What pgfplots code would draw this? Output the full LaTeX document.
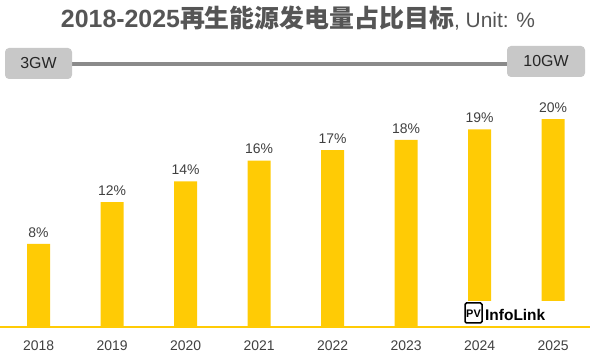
\documentclass[border=0pt]{standalone}
\usepackage{pgfplots}
\pgfplotsset{compat=1.18}
\usepackage{fontspec}
\setmainfont{Liberation Sans}
\newfontfamily\cjk{Noto Sans CJK SC}
\definecolor{barY}{HTML}{FFCB05}
\definecolor{labgray}{HTML}{404040}
\definecolor{titgray}{HTML}{555555}
\definecolor{boxgray}{HTML}{C8C8C8}
\definecolor{linegray}{HTML}{8A8A8A}
\begin{document}
\begin{tikzpicture}
\useasboundingbox (0,0) rectangle (600bp,361bp);
\begin{axis}[
  at={(0bp,34bp)}, anchor=south west, scale only axis,
  width=590bp, height=237bp,
  xmin=-0.524, xmax=7.503, ymin=0, ymax=22.79,
  axis x line*=bottom, axis y line=none,
  x axis line style={draw=barY, line width=2bp},
  ybar, bar width=23bp,
  xtick={0,1,2,3,4,5,6,7},
  xticklabels={2018,2019,2020,2021,2022,2023,2024,2025},
  major tick length=0pt,
  xticklabel style={font=\fontsize{14}{14}\selectfont, text=labgray, yshift=-10bp},
  /pgf/number format/assume math mode=true,
  nodes near coords={\pgfmathprintnumber{\pgfplotspointmeta}\%},
  every node near coord/.append style={font=\fontsize{14}{14}\selectfont, text=labgray, yshift=3bp},
  clip=false,
]
\addplot[fill=barY, draw=none] coordinates {(0,8) (1,12) (2,14) (3,16) (4,17) (5,18) (6,19) (7,20)};
\end{axis}
% title
\node[text=titgray, anchor=center] at (298bp,343bp) {{\fontsize{25}{25}\selectfont\bfseries 2018-2025{\cjk\bfseries 再生能源发电量占比目标}}{\fontsize{21}{21}\selectfont, Unit: \%}};
% capacity line
\draw[linegray, line width=4bp] (72bp,297bp) -- (507bp,297bp);
\filldraw[fill=boxgray, draw=none, rounded corners=4bp] (5bp,282bp) rectangle (72bp,313bp);
\node[font=\fontsize{16}{16}\selectfont, text=black!85] at (38.5bp,297.5bp) {3GW};
\filldraw[fill=boxgray, draw=none, rounded corners=4bp] (507bp,284bp) rectangle (585bp,315bp);
\node[font=\fontsize{16}{16}\selectfont, text=black!85] at (546bp,299.5bp) {10GW};
% logo
\fill[white] (462bp,35bp) rectangle (570bp,60bp);
\draw[black, line width=1.5bp, rounded corners=1.5bp] (465bp,38bp) rectangle (482bp,58bp);
\node[font=\bfseries\fontsize{11}{11}\selectfont, inner sep=0pt, anchor=center] at (473.5bp,47.5bp) {PV};
\node[anchor=west, font=\bfseries\fontsize{15.5}{15.5}\selectfont, inner sep=0pt] at (485bp,46.5bp) {InfoLink};
\end{tikzpicture}
\end{document}
